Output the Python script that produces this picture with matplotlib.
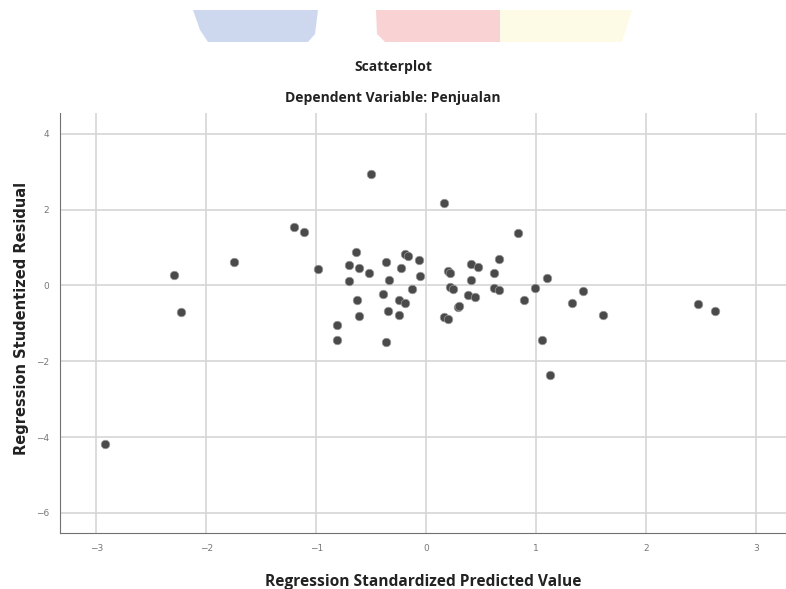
import matplotlib
matplotlib.use('Agg')
import matplotlib.pyplot as plt
from matplotlib.patches import Polygon

# standardized predicted value (x) and studentized residual (y)
pred = [-2.92, -2.29, -2.23, -1.75, -1.20, -1.11, -0.98,
        -0.81, -0.81, -0.70, -0.70, -0.64, -0.63, -0.61, -0.61, -0.52, -0.50,
        -0.39, -0.37, -0.37, -0.35, -0.34, -0.25, -0.25, -0.23, -0.19, -0.19, -0.17,
        -0.13, -0.07, -0.06,
        0.16, 0.16, 0.20, 0.20, 0.22, 0.22, 0.24, 0.29, 0.30, 0.38, 0.41, 0.41,
        0.44, 0.47, 0.62, 0.62, 0.66, 0.66, 0.83, 0.89, 0.99, 1.05, 1.10, 1.12,
        1.32, 1.42, 1.61, 2.47, 2.62]
resid = [-4.18, 0.27, -0.70, 0.63, 1.53, 1.42, 0.43,
         -1.05, -1.43, 0.53, 0.12, 0.89, -0.39, 0.46, -0.81, 0.34, 2.95,
         -0.23, 0.61, -1.50, -0.68, 0.14, -0.38, -0.79, 0.46, -0.46, 0.82, 0.77,
         -0.08, 0.68, 0.25,
         2.17, -0.83, 0.39, -0.88, 0.33, -0.05, -0.09, -0.56, -0.55, -0.25, 0.57, 0.14,
         -0.31, 0.50, 0.34, -0.07, 0.71, -0.12, 1.39, -0.38, -0.07, -1.44, 0.20, -2.35,
         -0.46, -0.14, -0.79, -0.49, -0.68]

xticks = [-3, -2, -1, 0, 1, 2, 3]
yticks = [-6, -4, -2, 0, 2, 4]

fig = plt.figure(figsize=(7.86, 5.89), dpi=100)

# faded header shapes at the top of the page
W, H = 786, 589
def fig_poly(pts, color):
    p = Polygon([(x / W, 1 - y / H) for x, y in pts], closed=True,
                transform=fig.transFigure, color=color, lw=0)
    fig.patches.append(p)

fig_poly([(193, 10), (318, 10), (315, 34), (308, 42), (208, 42), (200, 30)], '#cdd8ef')
fig_poly([(376, 10), (500, 10), (500, 42), (385, 42), (377, 34)], '#f9d2d3')
fig_poly([(500, 10), (632, 10), (622, 42), (500, 42)], '#fdfbe6')

ax = fig.add_axes([60 / W, 1 - 533 / H, 1 - 60 / W, (533 - 113) / H])
ax.scatter(pred, resid, s=38, color='#4a4a4a', edgecolors='#9a9a9a',
           linewidths=0.5, zorder=3)

ax.set_xlim(-3.33, 3.27)
ax.set_ylim(-6.53, 4.55)
ax.set_xticks(xticks)
ax.set_yticks(yticks)
ax.grid(True, color='#d6d6d6', lw=1.2)
ax.set_axisbelow(True)
for s in ['top', 'right']:
    ax.spines[s].set_visible(False)
for s in ['left', 'bottom']:
    ax.spines[s].set_color('#707070')
ax.tick_params(length=0, labelsize=6.5, colors='#777777', pad=8)

ax.set_xlabel('Regression Standardized Predicted Value', fontsize=11.2,
              fontweight='bold', color='#222222', labelpad=15, family='Open Sans')

fig.text(22 / W, 1 - 318 / H, 'Regression Studentized Residual', rotation=90,
         ha='center', va='center', fontsize=10.5, fontweight='bold',
         color='#222222', family='DejaVu Sans')
fig.text(0.5, 1 - 67 / H, 'Scatterplot', ha='center', va='center',
         fontsize=10, fontweight='bold', family='Open Sans', color='#222222')
fig.text(0.5, 1 - 98 / H, 'Dependent Variable: Penjualan', ha='center', va='center',
         fontsize=10, fontweight='bold', family='Open Sans', color='#222222')

fig.savefig('out.png', dpi=100)
